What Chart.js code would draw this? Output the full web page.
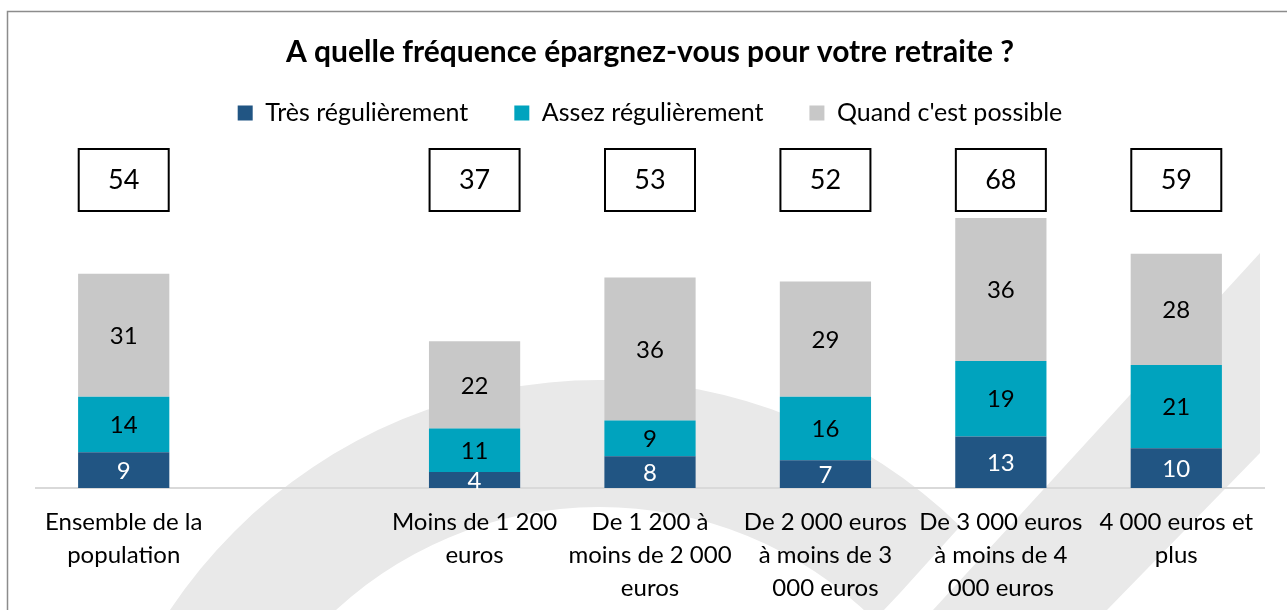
<!DOCTYPE html>
<html>
<head>
<meta charset="utf-8">
<script src="https://cdn.jsdelivr.net/npm/chart.js@4.4.1/dist/chart.umd.min.js"></script>
<style>
  html, body { margin: 0; padding: 0; background: #fff; overflow: hidden; }
  #wrap { width: 1287px; height: 628px; }
</style>
</head>
<body>
<div id="wrap"><canvas id="myChart"></canvas></div>
<script>
const categories = [
  ['Ensemble de la', 'population'],
  '',
  ['Moins de 1 200', 'euros'],
  ['De 1 200 à', 'moins de 2 000', 'euros'],
  ['De 2 000 euros', 'à moins de 3', '000 euros'],
  ['De 3 000 euros', 'à moins de 4', '000 euros'],
  ['4 000 euros et', 'plus']
];
const tresRegulierement = [9, null, 4, 8, 7, 13, 10];
const assezRegulierement = [14, null, 11, 9, 16, 19, 21];
const quandPossible = [31, null, 22, 36, 29, 36, 28];
const seriesNames = ['Très régulièrement', 'Assez régulièrement', "Quand c'est possible"];

const FONT = "Lato, 'Open Sans', sans-serif";

// watermark + frame behind the chart
const backdrop = {
  id: 'backdrop',
  beforeDraw(chart) {
    const ctx = chart.ctx;
    ctx.save();
    ctx.fillStyle = '#e9e9e9';
    // big arc swoosh
    ctx.beginPath();
    ctx.arc(600, 897, 517, Math.PI, 2 * Math.PI - 0.8);
    ctx.lineTo(900, 593);
    ctx.arc(600, 897, 390, 2 * Math.PI - 0.79, Math.PI, true);
    ctx.closePath();
    ctx.fill();
    // diagonal stripe
    ctx.beginPath();
    ctx.moveTo(933, 610);
    ctx.lineTo(1260, 253);
    ctx.lineTo(1260, 453);
    ctx.lineTo(1107, 610);
    ctx.closePath();
    ctx.fill();
    // frame
    ctx.strokeStyle = '#8c8c8c';
    ctx.lineWidth = 1.5;
    ctx.strokeRect(7.5, 11.5, 1400, 800);
    ctx.restore();
  }
};

// values inside the segments and totals in boxes
const labelsPlugin = {
  id: 'segLabels',
  afterDatasetsDraw(chart) {
    const ctx = chart.ctx;
    ctx.save();
    ctx.font = '24px ' + FONT;
    ctx.textAlign = 'center';
    ctx.textBaseline = 'middle';
    chart.data.datasets.forEach((ds, di) => {
      const meta = chart.getDatasetMeta(di);
      meta.data.forEach((bar, i) => {
        const v = ds.data[i];
        if (v == null) return;
        ctx.fillStyle = di === 0 ? '#ffffff' : '#000000';
        ctx.fillText(String(v), bar.x, (bar.y + bar.base) / 2 + 1);
      });
    });
    // totals
    const meta0 = chart.getDatasetMeta(0);
    categories.forEach((c, i) => {
      if (tresRegulierement[i] == null) return;
      const total = tresRegulierement[i] + assezRegulierement[i] + quandPossible[i];
      const x = meta0.data[i].x;
      const y = 180;
      ctx.fillStyle = '#ffffff';
      ctx.fillRect(x - 45, y - 31, 90, 62);
      ctx.strokeStyle = '#000000';
      ctx.lineWidth = 2;
      ctx.strokeRect(x - 45, y - 31, 90, 62);
      ctx.fillStyle = '#000000';
      ctx.font = '27px ' + FONT;
      ctx.fillText(String(total), x, y);
    });
    ctx.restore();
  }
};

const ctx = document.getElementById('myChart');
const myChart = new Chart(ctx, {
  type: 'bar',
  data: {
    labels: categories,
    datasets: [{
      label: seriesNames[0],
      data: tresRegulierement,
      backgroundColor: '#215583'
    }, {
      label: seriesNames[1],
      data: assezRegulierement,
      backgroundColor: '#00a3be'
    }, {
      label: seriesNames[2],
      data: quandPossible,
      backgroundColor: '#c8c8c8'
    }]
  },
  options: {
    responsive: true,
    maintainAspectRatio: false,
    animation: false,
    layout: { padding: { left: 36, right: 23, top: 0, bottom: 5 } },
    datasets: {
      bar: { barPercentage: 0.52, categoryPercentage: 1, borderWidth: 0 }
    },
    plugins: {
      title: {
        display: true,
        text: 'A quelle fréquence épargnez-vous pour votre retraite ?',
        color: '#000',
        font: { family: FONT, size: 30, weight: 'bold' },
        padding: { top: 34, bottom: -15.5 }
      },
      legend: {
        position: 'top',
        labels: {
          color: '#000',
          font: { family: FONT, size: 25 },
          boxWidth: 15,
          boxHeight: 15,
          padding: 46
        }
      },
      tooltip: { enabled: false }
    },
    scales: {
      x: {
        stacked: true,
        grid: { display: false, drawTicks: false },
        border: { display: true, color: '#d9d9d9', width: 2 },
        ticks: {
          color: '#000',
          font: { family: FONT, size: 24, lineHeight: 1.375 },
          padding: 18,
          maxRotation: 0,
          minRotation: 0,
          autoSkip: false
        }
      },
      y: {
        stacked: true,
        display: false,
        min: 0,
        max: 88.8
      }
    }
  },
  plugins: [backdrop, labelsPlugin]
});
</script>
</body>
</html>
